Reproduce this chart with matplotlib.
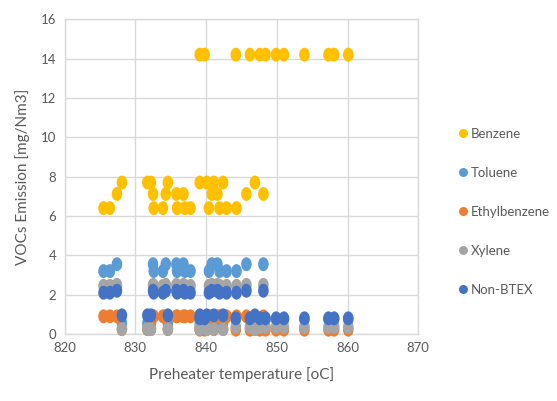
import numpy as np
import matplotlib
matplotlib.use("Agg")
import matplotlib.pyplot as plt
from matplotlib.path import Path
from matplotlib.lines import Line2D

temperature = [
    825.5, 826.4, 832.6, 833.9, 835.9, 837.0, 837.8, 840.4, 841.9, 842.9, 844.3,
    827.4, 832.5, 834.3, 835.8, 836.8, 840.8, 841.6, 845.7, 848.1,
    828.1, 831.7, 832.2, 834.6, 839.1, 840.1, 841.1, 842.4, 846.9,
    839.1, 839.8, 844.2, 846.2, 847.6, 848.4, 849.9, 851.0, 853.9, 857.3, 858.1, 860.1,
]
benzene = [
    6.4, 6.4, 6.4, 6.4, 6.4, 6.4, 6.4, 6.4, 6.4, 6.4, 6.4,
    7.12, 7.12, 7.12, 7.12, 7.12, 7.12, 7.12, 7.12, 7.12,
    7.7, 7.7, 7.7, 7.7, 7.7, 7.7, 7.7, 7.7, 7.7,
    14.2, 14.2, 14.2, 14.2, 14.2, 14.2, 14.2, 14.2, 14.2, 14.2, 14.2, 14.2,
]
toluene = [
    3.2, 3.2, 3.2, 3.2, 3.2, 3.2, 3.2, 3.2, 3.2, 3.2, 3.2,
    3.55, 3.55, 3.55, 3.55, 3.55, 3.55, 3.55, 3.55, 3.55,
    0.55, 0.55, 0.55, 0.55, 0.55, 0.55, 0.55, 0.55, 0.55,
    0.75, 0.75, 0.75, 0.75, 0.75, 0.75, 0.75, 0.75, 0.75, 0.75, 0.75, 0.75,
]
ethylbenzene = [
    0.9, 0.9, 0.9, 0.9, 0.9, 0.9, 0.9, 0.9, 0.9, 0.9, 0.9,
    0.9, 0.9, 0.9, 0.9, 0.9, 0.9, 0.9, 0.9, 0.9,
    0.25, 0.25, 0.25, 0.25, 0.25, 0.25, 0.25, 0.25, 0.25,
    0.22, 0.22, 0.22, 0.22, 0.22, 0.22, 0.22, 0.22, 0.22, 0.22, 0.22, 0.22,
]
xylene = [
    2.45, 2.45, 2.45, 2.45, 2.45, 2.45, 2.45, 2.45, 2.45, 2.45, 2.45,
    2.5, 2.5, 2.5, 2.5, 2.5, 2.5, 2.5, 2.5, 2.5,
    0.25, 0.25, 0.25, 0.25, 0.25, 0.25, 0.25, 0.25, 0.25,
    0.36, 0.36, 0.36, 0.36, 0.36, 0.36, 0.36, 0.36, 0.36, 0.36, 0.36, 0.36,
]
non_btex = [
    2.1, 2.1, 2.1, 2.1, 2.1, 2.1, 2.1, 2.1, 2.1, 2.1, 2.1,
    2.2, 2.2, 2.2, 2.2, 2.2, 2.2, 2.2, 2.2, 2.2,
    0.95, 0.95, 0.95, 0.95, 0.95, 0.95, 0.95, 0.95, 0.95,
    0.8, 0.8, 0.8, 0.8, 0.8, 0.8, 0.8, 0.8, 0.8, 0.8, 0.8, 0.8,
]

series_names = ["Benzene", "Toluene", "Ethylbenzene", "Xylene", "Non-BTEX"]
series_values = [benzene, toluene, ethylbenzene, xylene, non_btex]
colors = ["#FFC000", "#5B9BD5", "#ED7D31", "#A5A5A5", "#4472C4"]

x_ticks = [820, 830, 840, 850, 860, 870]
y_ticks = [0, 2, 4, 6, 8, 10, 12, 14, 16]

plt.rcParams['font.family'] = ['Lato', 'DejaVu Sans']

fig = plt.figure(figsize=(5.57, 4.01), dpi=100)
ax = fig.add_axes([0.116, 0.167, 0.635, 0.785])

t = np.linspace(0, 2 * np.pi, 60)
ell = Path(np.column_stack([0.76 * np.cos(t), np.sin(t)]), closed=True)

for name, vals, c in zip(series_names, series_values, colors):
    ax.scatter(temperature, vals, marker=ell, s=100, color=c, edgecolors='none',
               label=name, zorder=3, clip_on=False)

ax.set_xlim(820, 870)
ax.set_ylim(0, 16)
ax.set_xticks(x_ticks)
ax.set_yticks(y_ticks)
ax.grid(True, color="#D9D9D9", linewidth=1.0, zorder=0)
ax.set_axisbelow(True)
for s in ax.spines.values():
    s.set_color("#D9D9D9")
    s.set_linewidth(1.0)
ax.tick_params(axis='both', length=0, labelsize=9.5, colors="#595959", pad=6)
ax.set_xlabel("Preheater temperature [oC]", fontsize=11, color="#595959", labelpad=9)
ax.set_ylabel("VOCs Emission [mg/Nm3]", fontsize=11, color="#595959", labelpad=8)

handles = [Line2D([], [], linestyle='none', marker='o', markersize=6.5,
                  markerfacecolor=c, markeredgecolor='none') for c in colors]
fig.legend(handles, series_names, loc='upper left', bbox_to_anchor=(0.815, 0.695),
           frameon=False, fontsize=9.5, labelspacing=2.05, handlelength=0.6,
           handletextpad=0.3, labelcolor="#595959", borderaxespad=0)

fig.savefig("out.png", dpi=100)
